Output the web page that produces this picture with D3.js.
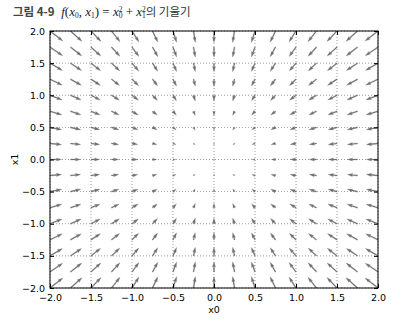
<!DOCTYPE html>
<html>
<head>
<meta charset="utf-8">
<script src="https://cdn.jsdelivr.net/npm/d3@7"></script>
<style>
body{margin:0;background:#fff;}
svg text{font-family:"DejaVu Sans",sans-serif;}
</style>
</head>
<body>
<svg id="chart" width="404" height="327"></svg>
<script>
// grid points of the quiver (x0, x1) and the negative gradient at them
var gridX=[-2,-1.75,-1.5,-1.25,-1,-0.75,-0.5,-0.25,0,0.25,0.5,0.75,1,1.25,1.5,1.75,2,2.25];
var gridY=[-2,-1.75,-1.5,-1.25,-1,-0.75,-0.5,-0.25,0,0.25,0.5,0.75,1,1.25,1.5,1.75,2,2.25];
var gradX=[4,3.5,3,2.5,2,1.5,1,0.5,0,-0.5,-1,-1.5,-2,-2.5,-3,-3.5,-4,-4.5];
var gradY=[4,3.5,3,2.5,2,1.5,1,0.5,0,-0.5,-1,-1.5,-2,-2.5,-3,-3.5,-4,-4.5];
var tickVals=[-2,-1.5,-1,-0.5,0,0.5,1,1.5,2];

var margin={left:50,right:26,top:31,bottom:39};
var W=404,H=327;
var svg=d3.select("#chart");

var xScale=d3.scaleLinear().domain([-2,2]).range([margin.left,W-margin.right]);
var yScale=d3.scaleLinear().domain([-2,2]).range([H-margin.bottom,margin.top]);

svg.append("clipPath").attr("id","clip")
   .append("rect")
   .attr("x",margin.left).attr("y",margin.top)
   .attr("width",W-margin.left-margin.right)
   .attr("height",H-margin.top-margin.bottom);

var fmt=function(d){return d3.format(".1f")(d).replace("-","\u2212");};

// grid
var grid=svg.append("g");
grid.selectAll("line.gx").data(tickVals).enter().append("line")
    .attr("x1",function(d){return xScale(d);}).attr("x2",function(d){return xScale(d);})
    .attr("y1",margin.top).attr("y2",H-margin.bottom)
    .attr("stroke","#000").attr("stroke-width",0.6).attr("stroke-dasharray","1,2").attr("opacity",0.65);
grid.selectAll("line.gy").data(tickVals).enter().append("line")
    .attr("y1",function(d){return yScale(d);}).attr("y2",function(d){return yScale(d);})
    .attr("x1",margin.left).attr("x2",W-margin.right)
    .attr("stroke","#000").attr("stroke-width",0.6).attr("stroke-dasharray","1,2").attr("opacity",0.65);

// quiver arrows (matplotlib style, pivot at tail)
var pts=[];
gridY.forEach(function(y,j){
  gridX.forEach(function(x,i){
    pts.push({x:x,y:y,u:gradX[i],v:gradY[j]});
  });
});
var K=2.9;        // px per unit magnitude
var wPx=1.05;     // shaft width px
var hw=3,hl=5,hal=4.5,minsh=5,minlen=1;
function arrowPath(d){
  var px=xScale(d.x),py=yScale(d.y);
  var dx=xScale(d.x+d.u)-xScale(d.x), dy=yScale(d.y+d.v)-yScale(d.y);
  var mag=Math.sqrt(d.u*d.u+d.v*d.v);
  var L=mag*K/wPx;
  var ang=Math.atan2(dy,dx);
  var X,Y;
  if(L<minlen){
    X=[];Y=[];
    for(var k=0;k<6;k++){X.push(Math.cos(k*Math.PI/3)*minlen*0.5);Y.push(Math.sin(k*Math.PI/3)*minlen*0.5);}
  }else if(L<minsh){
    var s=L/minsh;
    X=[0,minsh-hal,minsh-hl,minsh,minsh-hl,minsh-hal,0].map(function(v){return v*s;});
    Y=[0.5,0.5,hw/2,0,-hw/2,-0.5,-0.5].map(function(v){return v*s;});
  }else{
    X=[0,L-hal,L-hl,L,L-hl,L-hal,0];
    Y=[0.5,0.5,hw/2,0,-hw/2,-0.5,-0.5];
  }
  var c=Math.cos(ang),sn=Math.sin(ang);
  var out=X.map(function(xv,k){
    var a=xv*wPx,b=Y[k]*wPx;
    return [px+a*c-b*sn,py+a*sn+b*c];
  });
  return "M"+out.map(function(p){return p[0].toFixed(2)+","+p[1].toFixed(2);}).join("L")+"Z";
}
svg.append("g").attr("clip-path","url(#clip)")
   .selectAll("path").data(pts).enter().append("path")
   .attr("d",arrowPath)
   .attr("fill","#707070").attr("stroke","#707070").attr("stroke-width",0.25);

// frame
svg.append("rect")
   .attr("x",margin.left).attr("y",margin.top)
   .attr("width",W-margin.left-margin.right)
   .attr("height",H-margin.top-margin.bottom)
   .attr("fill","none").attr("stroke","#000").attr("stroke-width",1);

// axes (ticks inside, classic style)
var xAxis=d3.axisBottom(xScale).tickValues(tickVals).tickFormat(fmt).tickSizeInner(-4).tickSizeOuter(0).tickPadding(6);
var yAxis=d3.axisLeft(yScale).tickValues(tickVals).tickFormat(fmt).tickSizeInner(-4).tickSizeOuter(0).tickPadding(5);
var gx=svg.append("g").attr("transform","translate(0,"+(H-margin.bottom)+")").call(xAxis);
var gy=svg.append("g").attr("transform","translate("+margin.left+",0)").call(yAxis);
var gxt=svg.append("g").attr("transform","translate(0,"+margin.top+")")
   .call(d3.axisTop(xScale).tickValues(tickVals).tickFormat("").tickSizeInner(-4).tickSizeOuter(0));
var gyr=svg.append("g").attr("transform","translate("+(W-margin.right)+",0)")
   .call(d3.axisRight(yScale).tickValues(tickVals).tickFormat("").tickSizeInner(-4).tickSizeOuter(0));
[gx,gy,gxt,gyr].forEach(function(g){
  g.select(".domain").remove();
  g.selectAll("text").attr("font-size","9.5px").attr("font-family","DejaVu Sans").attr("fill","#000");
  g.selectAll("line").attr("stroke","#000");
});

// axis labels
svg.append("text").attr("x",(xScale(-2)+xScale(2))/2).attr("y",313)
   .attr("text-anchor","middle").attr("font-size","9.5px").text("x0");
svg.append("text").attr("transform","translate(18,"+((yScale(-2)+yScale(2))/2)+") rotate(-90)")
   .attr("text-anchor","middle").attr("font-size","9.5px").text("x1");

// title
var t=svg.append("text").attr("x",13).attr("y",16).attr("font-size","11.5px");
t.append("tspan").attr("font-family","Noto Sans CJK KR").attr("font-weight","bold").attr("fill","#444").text("그림 4-9 ");
var m=function(txt,opt){
  var s=t.append("tspan").attr("font-family","Liberation Serif").attr("font-size","13px").attr("fill","#222").text(txt);
  if(opt&&opt.italic) s.attr("font-style","italic");
  if(opt&&opt.sub) s.attr("font-size","7.5px").attr("baseline-shift","-30%").attr("font-style","normal");
  if(opt&&opt.sup) s.attr("font-size","7.5px").attr("baseline-shift","55%").attr("font-style","normal");
  if(opt&&opt.dx) s.attr("dx",opt.dx);
  return s;
};
m(" f",{italic:true,dx:4}); m("("); m("x",{italic:true}); m("0",{sub:true}); m(", "); m("x",{italic:true}); m("1",{sub:true}); m(") = ");
m("x",{italic:true}); m("0",{sub:true}); m("2",{sup:true,dx:-3.8}); m(" + ");
m("x",{italic:true}); m("1",{sub:true}); m("2",{sup:true,dx:-3.8});
t.append("tspan").attr("font-family","Noto Sans CJK KR").attr("fill","#333").attr("font-size","11.5px").text("의 기울기");
</script>
</body>
</html>
